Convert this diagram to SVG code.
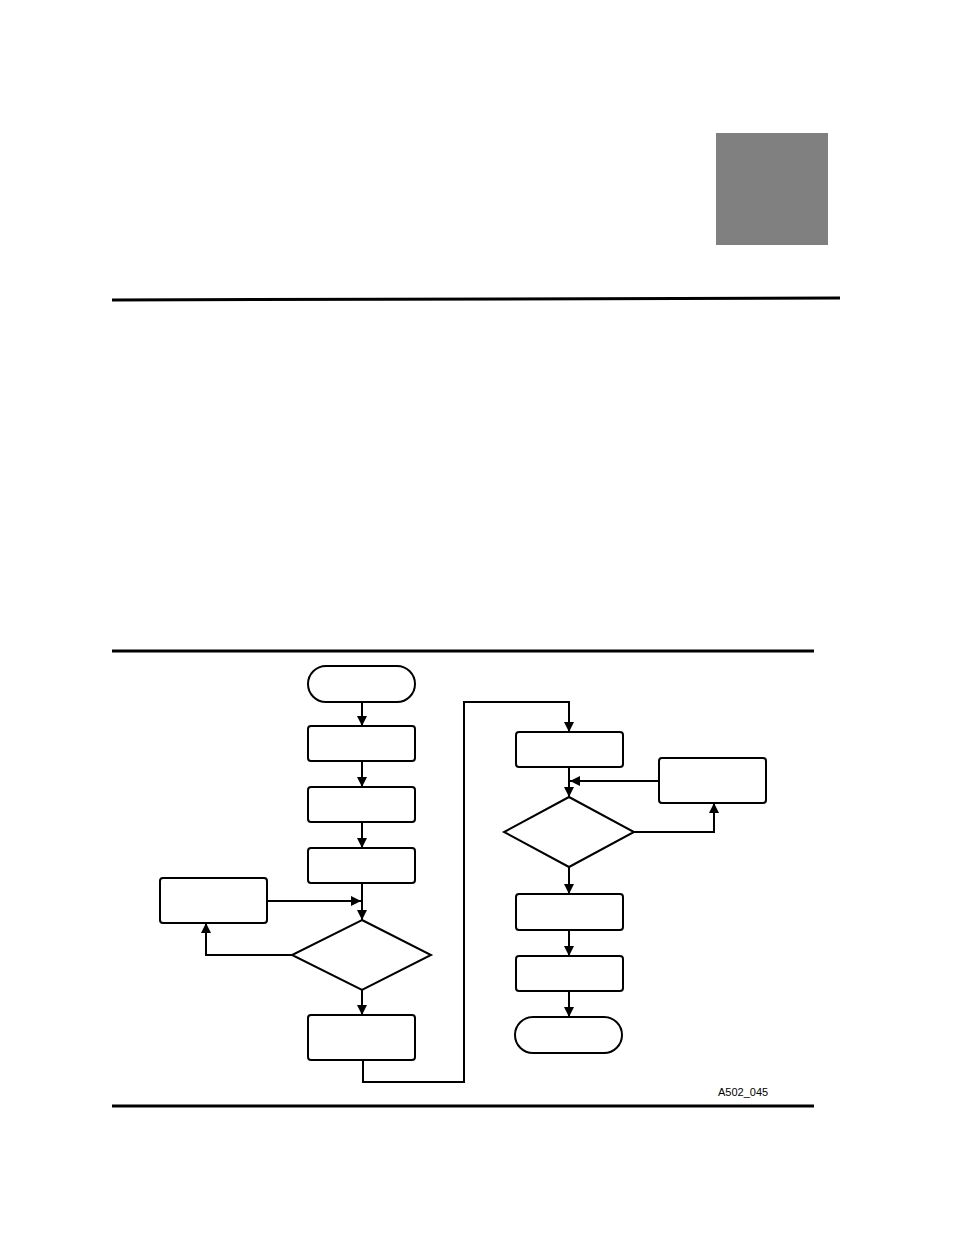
<svg xmlns="http://www.w3.org/2000/svg" width="954" height="1235" viewBox="0 0 954 1235">
<style>
.n{fill:#fff;stroke:#000;stroke-width:2}
.c{fill:none;stroke:#000;stroke-width:2}
.rule{stroke:#000;stroke-width:3}
.lbl{font-family:"Liberation Sans",Arial,sans-serif;font-size:11px;fill:#000}
</style>
<defs>
<marker id="ah" viewBox="0 0 10 10" refX="10" refY="5" markerWidth="10" markerHeight="10" markerUnits="userSpaceOnUse" orient="auto">
<path d="M0,0 L10,5 L0,10 Z" fill="#000"/>
</marker>
</defs>
<rect width="954" height="1235" fill="#fff"/>
<rect x="716" y="133" width="112" height="112" fill="#808080"/>
<line class="rule" x1="112" y1="300" x2="840" y2="298"/>
<line class="rule" x1="112" y1="651" x2="814" y2="651"/>
<line class="rule" x1="112" y1="1106" x2="814" y2="1106"/>
<g id="start"><rect class="n" x="308" y="666" width="107" height="36" rx="18"/></g>
<g id="box1"><rect class="n" x="308" y="726" width="107" height="35" rx="3"/></g>
<g id="box2"><rect class="n" x="308" y="787" width="107" height="35" rx="3"/></g>
<g id="box3"><rect class="n" x="308" y="848" width="107" height="35" rx="3"/></g>
<g id="leftbox"><rect class="n" x="160" y="878" width="107" height="45" rx="3"/></g>
<g id="dec1"><polygon class="n" points="362,920 431,955 362,990 292,955"/></g>
<g id="box4"><rect class="n" x="308" y="1015" width="107" height="45" rx="3"/></g>
<g id="rbox1"><rect class="n" x="516" y="732" width="107" height="35" rx="3"/></g>
<g id="sidebox"><rect class="n" x="659" y="758" width="107" height="45" rx="3"/></g>
<g id="dec2"><polygon class="n" points="569,797 634,832 569,867 504,832"/></g>
<g id="rbox2"><rect class="n" x="516" y="894" width="107" height="36" rx="3"/></g>
<g id="rbox3"><rect class="n" x="516" y="956" width="107" height="35" rx="3"/></g>
<g id="end"><rect class="n" x="515" y="1017" width="107" height="36" rx="18"/></g>
<g id="connectors">
<path class="c" d="M362,702 V726" marker-end="url(#ah)"/>
<path class="c" d="M362,761 V787" marker-end="url(#ah)"/>
<path class="c" d="M362,822 V848" marker-end="url(#ah)"/>
<path class="c" d="M362,883 V920" marker-end="url(#ah)"/>
<path class="c" d="M267,901 H361" marker-end="url(#ah)"/>
<path class="c" d="M292,955 H206 V923" marker-end="url(#ah)"/>
<path class="c" d="M362,990 V1015" marker-end="url(#ah)"/>
<path class="c" d="M363,1060 V1082 H464 V702 H569 V732" marker-end="url(#ah)"/>
<path class="c" d="M569,767 V797" marker-end="url(#ah)"/>
<path class="c" d="M659,781 H570" marker-end="url(#ah)"/>
<path class="c" d="M634,832 H714 V803" marker-end="url(#ah)"/>
<path class="c" d="M569,867 V894" marker-end="url(#ah)"/>
<path class="c" d="M569,930 V956" marker-end="url(#ah)"/>
<path class="c" d="M569,991 V1017" marker-end="url(#ah)"/>
</g>
<text class="lbl" x="718" y="1096">A502_045</text>
</svg>
